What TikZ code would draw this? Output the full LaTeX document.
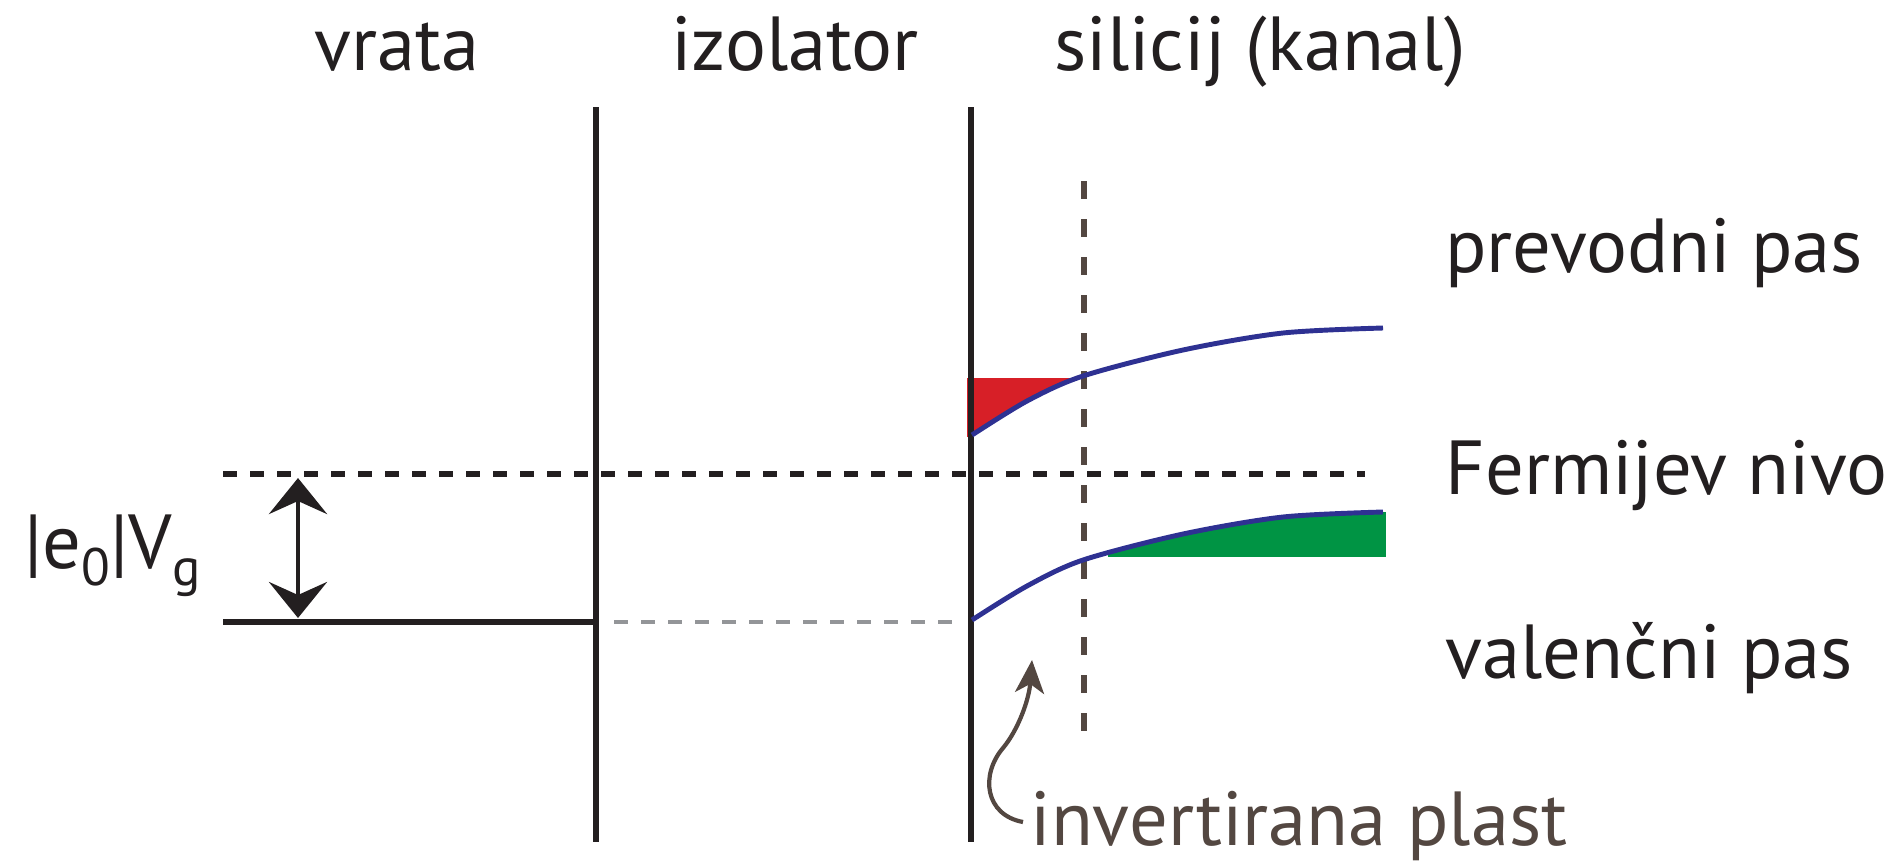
\documentclass[tikz,border=0pt]{standalone}
\usepackage{fontspec}
\setmainfont{PT Sans}
\setsansfont{PT Sans}
\usetikzlibrary{arrows.meta}
\definecolor{cblack}{HTML}{231F20}
\definecolor{cblue}{HTML}{2E3192}
\definecolor{cred}{HTML}{D71F27}
\definecolor{cgreen}{HTML}{009444}
\definecolor{cbrown}{HTML}{534741}
\definecolor{cgrey}{HTML}{939598}
\newcommand{\lowidx}[1]{\raisebox{-5pt}{\fontsize{15}{17}\selectfont #1}}
\tikzset{
  every picture/.style={font=\sffamily\fontsize{21.8}{26}\selectfont, line width=1.4pt},
  heading/.style={anchor=base, inner sep=0pt, text=cblack},
  note/.style={anchor=base west, inner sep=0pt, text=#1},
  note/.default=cblack,
  wall/.style={draw=cblack, line width=1.6pt},
  level/.style={draw=#1, line width=1.6pt, dash pattern=on 1.4mm off 1.3mm},
  level/.default=cblack,
  band/.style={draw=cblue, line width=1.4pt},
  arrow/.style={{Stealth[length=3.6mm, width=5.8mm, inset=1.3mm]}-{Stealth[length=3.6mm, width=5.8mm, inset=1.3mm]}, draw=cblack, line width=1.4pt},
  bent/.style={-{Stealth[length=3.3mm, width=2.9mm, inset=0.9mm]}, draw=cbrown, line width=1.2pt},
}
\begin{document}
\begin{tikzpicture}[x=0.1mm, y=-0.1mm]
  \useasboundingbox (0,0) rectangle (1889,862);
  % layer titles
  \node[heading] (vrata) at (397,70) {vrata};
  \node[heading] (izolator) at (795,70) {izolator};
  \node[heading] (silicij) at (1260,70) {silicij (kanal)};
  % red and green fillings
  \begin{scope}
    \clip (960,440) -- plot[smooth] coordinates {(972,435) (1027,401) (1083,376) (1183,350) (1283,333) (1383,328)} -- (1383,300) -- (960,300) -- cycle;
    \fill[cred] (967,378) rectangle (1100,445);
  \end{scope}
  \begin{scope}
    \clip plot[smooth] coordinates {(972,620) (1027,586) (1083,560) (1183,534) (1283,517) (1383,512)} -- (1390,512) -- (1390,600) -- (972,600) -- cycle;
    \fill[cgreen] (1108,500) rectangle (1386,557);
  \end{scope}
  % interfaces and levels
  \draw[wall] (596,107) -- (596,842);
  \draw[wall] (971,107) -- (971,842);
  \draw[level, dash pattern=on 1.8mm off 2mm, draw=cbrown] (1084,181) -- (1084,747);
  \draw[level] (223,474) -- (1365,474);
  \draw[wall] (223,622) -- (596,622);
  \draw[level=cgrey, line width=1.3pt] (614,622) -- (960,622);
  % bands
  \draw[band] plot[smooth] coordinates {(972,435) (1027,401) (1083,376) (1183,350) (1283,333) (1383,328)};
  \draw[band] plot[smooth] coordinates {(972,620) (1027,586) (1083,560) (1183,534) (1283,517) (1383,512)};
  % band labels
  \node[note] (prevodni) at (1443,272) {prevodni pas};
  \node[note] (fermi) at (1443,494) {Fermijev nivo};
  \node[note] (valencni) at (1443,678) {valenčni pas};
  % gate voltage
  \coordinate (vgtop) at (298,478);
  \coordinate (vgbot) at (298,618);
  \draw[arrow] (vgtop) -- (vgbot);
  \node[note] (vg) at (22,568) {|e\lowidx{0}|V\lowidx{g}};
  % inversion layer
  \node[note=cbrown] (plast) at (1028,845) {invertirana plast};
  \coordinate (plasttip) at (1032,660);
  \draw[bent] (1023,822) .. controls (985,815) and (980,775) .. (1003,748) .. controls (1018,730) and (1029,700) .. (plasttip);
\end{tikzpicture}
\end{document}
